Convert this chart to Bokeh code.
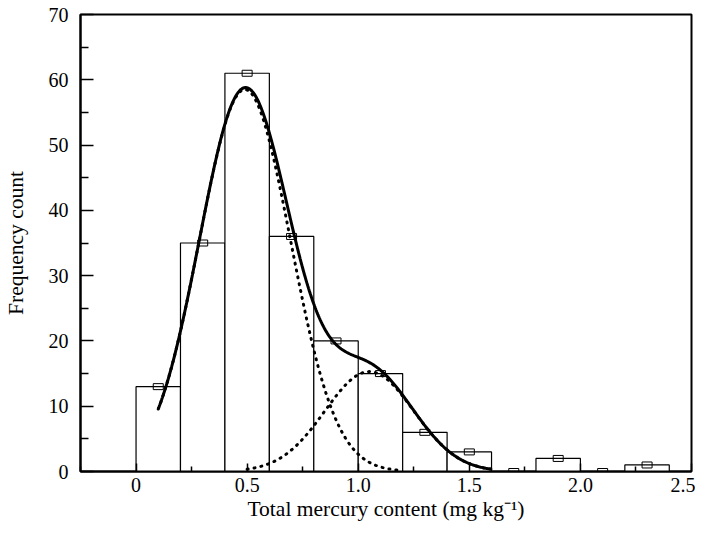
import numpy as np
from bokeh.plotting import figure
from bokeh.models import FixedTicker, Range1d
from bokeh.embed import file_html
from bokeh.resources import INLINE

# Histogram data (bin edges and counts)
bin_left = [0.0, 0.2, 0.4, 0.6, 0.8, 1.0, 1.2, 1.4, 1.6, 1.8, 2.0, 2.2]
bin_right = [0.2, 0.4, 0.6, 0.8, 1.0, 1.2, 1.4, 1.6, 1.8, 2.0, 2.2, 2.4]
counts = [13, 35, 61, 36, 20, 15, 6, 3, 0, 2, 0, 1]
bin_centers = [0.1, 0.3, 0.5, 0.7, 0.9, 1.1, 1.3, 1.5, 1.7, 1.9, 2.1, 2.3]

# Fitted Gaussian components (amplitude, centre, sigma)
comp1 = dict(amp=58.5, mu=0.49, sigma=0.205, x_start=0.1, x_end=1.2)
comp2 = dict(amp=15.3, mu=1.05, sigma=0.20, x_start=0.5, x_end=1.6)
sum_range = (0.1, 1.6)

x_ticks = [0, 0.5, 1.0, 1.5, 2.0, 2.5]
x_tick_labels = ["0", "0.5", "1.0", "1.5", "2.0", "2.5"]
x_minor = [-0.25, 0.25, 0.75, 1.25, 1.75, 2.25]
y_ticks = [0, 10, 20, 30, 40, 50, 60, 70]
y_minor = [5, 15, 25, 35, 45, 55, 65]


def gauss(x, c):
    return c["amp"] * np.exp(-(x - c["mu"]) ** 2 / (2 * c["sigma"] ** 2))


FONT = "Liberation Serif"

p = figure(width=695, height=529, output_backend="svg", toolbar_location=None,
           x_range=Range1d(-0.25, 2.5), y_range=Range1d(0, 70),
           min_border_left=80, min_border_right=4, min_border_top=14, min_border_bottom=58)
p.background_fill_color = "white"
p.border_fill_color = "white"
p.outline_line_color = "black"
p.outline_line_width = 2
p.xgrid.visible = False
p.ygrid.visible = False

# Histogram bars
p.quad(left=bin_left, right=bin_right, bottom=0, top=counts,
       fill_color="white", line_color="black", line_width=1.2)

# Markers at bin centres
p.rect(x=bin_centers, y=counts, width=10, height=6, width_units="screen",
       height_units="screen", fill_color=None, line_color="black", line_width=1)

# Curves
x1 = np.linspace(comp1["x_start"], comp1["x_end"], 300)
x2 = np.linspace(comp2["x_start"], comp2["x_end"], 300)
xs = np.linspace(sum_range[0], sum_range[1], 400)
p.line(x1, gauss(x1, comp1), line_color="black", line_width=3, line_dash="1 6", line_cap="round")
p.line(x2, gauss(x2, comp2), line_color="black", line_width=3, line_dash="1 6", line_cap="round")
p.line(xs, gauss(xs, comp1) + gauss(xs, comp2), line_color="black", line_width=3)

# Axes styling
xa = p.xaxis[0]
xa.ticker = FixedTicker(ticks=x_ticks, minor_ticks=x_minor)
xa.major_label_overrides = {t: l for t, l in zip(x_ticks, x_tick_labels)}
xa.axis_label = "Total mercury content (mg kg\u207b\u00b9)"
ya = p.yaxis[0]
ya.ticker = FixedTicker(ticks=y_ticks, minor_ticks=y_minor)
ya.axis_label = "Frequency count"

for ax in (xa, ya):
    ax.axis_line_color = "black"
    ax.axis_line_width = 2
    ax.major_tick_line_color = "black"
    ax.minor_tick_line_color = "black"
    ax.major_tick_line_width = 1.5
    ax.minor_tick_line_width = 1.5
    ax.major_tick_out = 0
    ax.minor_tick_out = 0
    ax.major_label_text_font = FONT
    ax.major_label_text_font_size = "20px"
    ax.major_label_text_color = "black"
    ax.axis_label_text_font = FONT
    ax.axis_label_text_font_size = "21.5px"
    ax.axis_label_text_font_style = "normal"
    ax.axis_label_text_color = "black"

xa.major_tick_in = 8
xa.minor_tick_in = 5
xa.major_label_standoff = 6
xa.axis_label_standoff = 2
ya.major_tick_in = 13
ya.minor_tick_in = 8
ya.major_label_standoff = 12
ya.axis_label_standoff = 18

open("out.html", "w").write(file_html(p, INLINE))
